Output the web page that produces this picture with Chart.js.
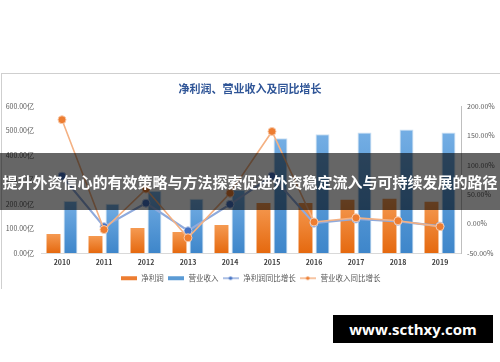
<!DOCTYPE html>
<html>
<head>
<meta charset="utf-8">
<script src="https://cdn.jsdelivr.net/npm/chart.js@4/dist/chart.umd.min.js"></script>
<style>
  html, body { margin: 0; padding: 0; background: #fff; }
  #wrap { position: relative; width: 500px; height: 362px; overflow: hidden; }
  #frame { position: absolute; left: 1px; top: 73px; width: 520px; height: 215px;
           border-left: 1px solid #cfcfcf; border-top: 1px solid #cfcfcf; }
  #chart { position: absolute; left: 0; top: 0; }
  #banner { position: absolute; left: 0; top: 153px; width: 500px; height: 57px;
            background: rgba(0, 0, 0, 0.6); color: #fff; text-align: center;
            font: bold 15px/57px 'Noto Sans CJK SC', sans-serif; white-space: nowrap; }
  #mark { position: absolute; left: 333px; top: 315px; width: 160px; height: 28px;
          background: #000; color: #fff; text-align: center;
          font: bold 15px/28px 'Open Sans', sans-serif; }
</style>
</head>
<body>
<div id="wrap">
  <div id="frame"></div>
  <canvas id="chart" width="500" height="362"></canvas>
  <div id="banner">提升外资信心的有效策略与方法探索促进外资稳定流入与可持续发展的路径</div>
  <div id="mark">www.scthxy.com</div>
</div>
<script>
const years = ['2010', '2011', '2012', '2013', '2014', '2015', '2016', '2017', '2018', '2019'];
const netProfit = [78, 70, 103, 86, 115, 205, 205, 218, 222, 210];       // 亿
const revenue = [213, 202, 255, 222, 259, 469, 485, 493, 505, 493];      // 亿
const profitGrowth = [81, -5, 35, -12, 33, 81, 1, 8, 4, -4];             // %
const revenueGrowth = [177, -10, 59, -24, 52, 157, 3, 10, 5, -5];        // %
const leftTicks = [0, 100, 200, 300, 400, 500, 600];
const rightTicks = [-50, 0, 50, 100, 150, 200];

const FONT = "'Noto Sans CJK SC', sans-serif";

// gradient per bar, lighter on top
function barFill(top, bottom) {
  return ctx => {
    const chart = ctx.chart;
    if (!chart.chartArea || ctx.type !== 'data') return bottom;
    const y = chart.scales.y;
    const g = chart.ctx.createLinearGradient(0, y.getPixelForValue(ctx.raw), 0, y.getPixelForValue(0));
    g.addColorStop(0, top);
    g.addColorStop(1, bottom);
    return g;
  };
}

function legendIcon(kind, color, dot) {
  const c = document.createElement('canvas');
  c.width = 16; c.height = 6;
  const g = c.getContext('2d');
  if (kind === 'bar') {
    g.fillStyle = color;
    g.fillRect(0, 1, 16, 4);
  } else {
    g.strokeStyle = color;
    g.lineWidth = 1.5;
    g.beginPath(); g.moveTo(0, 3); g.lineTo(16, 3); g.stroke();
    g.fillStyle = dot;
    g.beginPath(); g.arc(8, 3, 1.8, 0, Math.PI * 2); g.fill();
  }
  return c;
}

const icons = [
  legendIcon('bar', '#ED7D31'),
  legendIcon('bar', '#5B9BD5'),
  legendIcon('line', '#8FAADC', '#4472C4'),
  legendIcon('line', '#F4B183', '#ED7D31')
];

new Chart(document.getElementById('chart'), {
  type: 'bar',
  data: {
    labels: years,
    datasets: [
      {
        label: '净利润', data: netProfit, yAxisID: 'y', order: 2,
        backgroundColor: barFill('#F59A52', '#E5690F'),
        categoryPercentage: 0.81, barPercentage: 0.82
      },
      {
        label: '营业收入', data: revenue, yAxisID: 'y', order: 3,
        backgroundColor: barFill('#74AEE4', '#3E86CA'),
        borderColor: 'rgba(200,222,242,0.9)', borderWidth: 1,
        categoryPercentage: 0.81, barPercentage: 0.82
      },
      {
        type: 'line', label: '净利润同比增长', data: profitGrowth, yAxisID: 'y1', order: 1,
        borderColor: '#8FAADC', borderWidth: 2.2,
        pointBackgroundColor: '#4472C4', pointBorderColor: '#B4C7E7', pointBorderWidth: 1,
        pointRadius: 4, tension: 0
      },
      {
        type: 'line', label: '营业收入同比增长', data: revenueGrowth, yAxisID: 'y1', order: 0,
        borderColor: '#F4B183', borderWidth: 1.6,
        pointBackgroundColor: '#ED7D31', pointBorderColor: '#F8CBAD', pointBorderWidth: 1,
        pointRadius: 4, tension: 0
      }
    ]
  },
  options: {
    responsive: false,
    animation: false,
    layout: { padding: { left: 0, right: 0, top: 0, bottom: 70 } },
    plugins: {
      title: {
        display: true,
        text: '净利润、营业收入及同比增长',
        color: '#2F5597',
        font: { family: FONT, size: 11, weight: 'bold' },
        padding: { top: 82, bottom: 11 }
      },
      legend: {
        position: 'bottom',
        labels: {
          usePointStyle: true,
          pointStyleWidth: 18,
          padding: 3,
          color: '#595959',
          font: { family: FONT, size: 7.5 },
          sort: (a, b) => a.datasetIndex - b.datasetIndex,
          generateLabels: chart => chart.data.datasets.map((ds, i) => ({
            text: ds.label, pointStyle: icons[i], datasetIndex: i,
            fontColor: '#595959', fillStyle: 'transparent', strokeStyle: 'transparent', lineWidth: 0
          }))
        }
      },
      tooltip: { enabled: false }
    },
    scales: {
      x: {
        grid: { display: false, drawTicks: false },
        border: { display: true, color: '#d9d9d9' },
        ticks: { color: '#404040', padding: 5, font: { family: FONT, size: 7, weight: 'bold' } }
      },
      y: {
        position: 'left',
        min: 0, max: 600,
        afterBuildTicks: s => { s.ticks = leftTicks.map(v => ({ value: v })); },
        afterFit: s => { s.width = 41; },
        grid: { display: false, drawTicks: false },
        border: { display: false },
        ticks: { color: '#595959', padding: 7, font: { family: FONT, size: 7 },
                 callback: v => v.toFixed(2) + '亿' }
      },
      y1: {
        position: 'right',
        min: -50, max: 200,
        afterBuildTicks: s => { s.ticks = rightTicks.map(v => ({ value: v })); },
        afterFit: s => { s.width = 39; },
        grid: { display: false, drawTicks: false },
        border: { display: true, color: '#bfbfbf' },
        ticks: { color: '#595959', padding: 6, font: { family: FONT, size: 7 },
                 callback: v => v.toFixed(2) + '%' }
      }
    }
  }
});
</script>
</body>
</html>
